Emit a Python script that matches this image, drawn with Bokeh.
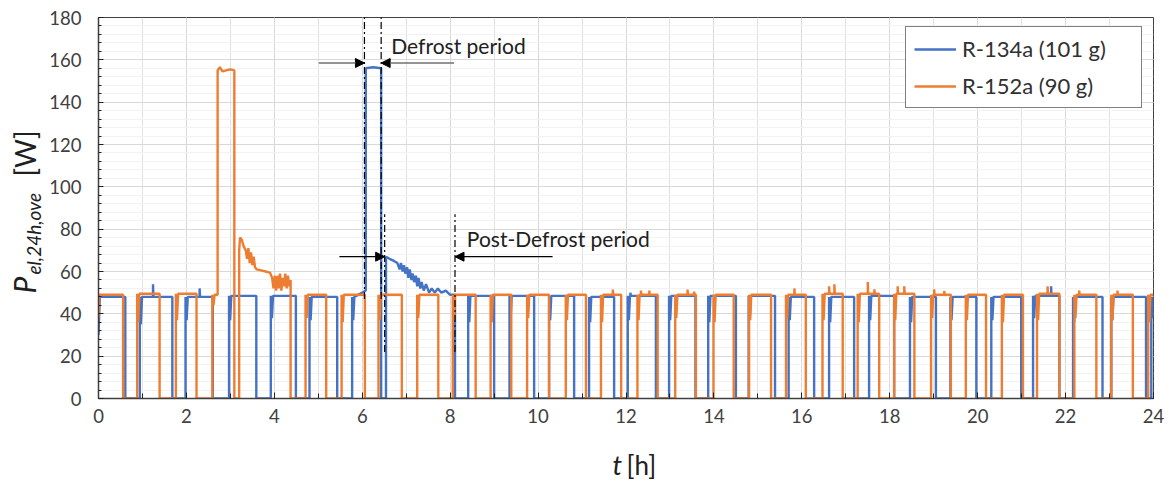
import math
from bokeh.plotting import figure
from bokeh.layouts import row, column
from bokeh.models import Label, Arrow, NormalHead, Legend, LegendItem, FixedTicker, Range1d
from bokeh.core.properties import value
from bokeh.embed import file_html
from bokeh.resources import INLINE

# ---------------- data ----------------
# R-134a (101 g): compressor on/off times [h], plateau power [W], start-up dip [W]
blue_on = [0.00, 0.94, 1.98, 2.97, 3.92, 4.80, 5.77, 6.54, 8.41, 9.35, 10.25, 11.16, 12.04,
           12.98, 13.87, 14.79, 15.70, 16.62, 17.53, 18.46, 19.38, 20.31, 21.26, 22.17, 23.04, 23.95]
blue_off = [0.61, 1.68, 2.60, 3.59, 4.49, 5.43, 6.43, 8.11, 9.00, 9.91, 10.82, 11.73, 12.68,
            13.58, 14.50, 15.39, 16.28, 17.19, 18.10, 19.05, 19.97, 20.99, 21.86, 22.84, 23.83, 24.00]
blue_lvl = [48, 48, 48, 48.5, 48.5, 48, 48, 48, 48.5, 48.5, 48.5, 48, 48.5,
            48.5, 48.5, 48.5, 48, 48, 48.5, 48, 48, 48, 48.5, 48, 48, 48]
blue_dip = [None, 35, 37, 37, 38, 37, None, None, 36, 38, 37, 36, 37,
            37, 36, 38, 37, 36, 37, 36, 37, 37, 38, 36, 37, 38]
# explicit profile of the start, the defrost and the post-defrost period
blue_sp_t = [0.00, 0.03, 0.61,
             5.77, 5.795, 5.82, 6.00, 6.08, 6.08, 6.25, 6.43,
             6.54, 6.62, 6.72, 6.80, 6.85, 6.88, 6.92, 6.95, 6.98, 7.02, 7.05, 7.08, 7.12,
             7.15, 7.18, 7.22, 7.25, 7.28, 7.32, 7.35, 7.40, 7.45, 7.52, 7.58, 7.65, 7.72,
             7.80, 7.90, 8.00, 8.11]
blue_sp_v = [30, 48, 48,
             48, 37, 48, 50, 51, 156, 156.5, 156,
             67, 66, 65, 64, 61, 64, 60, 63, 59, 62, 57, 61, 56,
             59, 55, 58, 53, 57, 52, 55, 51, 54, 50, 52, 50, 52,
             50, 51, 49, 49]
blue_spk_t = [1.24, 2.30, 12.10, 21.67]
blue_spk_v = [54, 52, 50, 53]

# R-152a (90 g)
orange_on = [0.00, 0.88, 1.76, 2.59, 3.20, 4.71, 5.53, 6.37, 7.25, 8.06, 8.92, 9.75, 10.63, 11.43,
             12.26, 13.12, 13.99, 14.80, 15.64, 16.47, 17.27, 18.10, 18.94, 19.73, 20.55, 21.35,
             22.20, 23.04, 23.88]
orange_off = [0.56, 1.39, 2.23, 3.09, 4.37, 5.18, 6.06, 6.90, 7.73, 8.58, 9.39, 10.25, 11.09, 11.89,
              12.72, 13.59, 14.45, 15.30, 16.09, 16.93, 17.76, 18.56, 19.39, 20.19, 21.03, 21.86,
              22.70, 23.53, 24.00]
orange_lvl = [49, 49.5, 49.5, 49, 49, 49, 49, 49, 49, 49, 49, 49, 49, 49,
              49, 49, 49, 49, 49, 49.5, 49.5, 49.5, 49, 49, 49, 49.5, 49, 49, 49]
orange_dip = [None, 36, 37, None, None, 38, 36, 37, 38, 37, 36, 38, 37, 36,
              37, 38, 36, 37, 38, 37, 36, 37, 38, 37, 36, 37, 38, 37, 36]
orange_sp_t = [0.00, 0.02, 0.56,
               2.59, 2.615, 2.64, 2.71, 2.71, 2.76, 2.82, 2.90, 3.00, 3.09,
               3.20, 3.22, 3.26, 3.30, 3.35, 3.38, 3.41, 3.44, 3.47, 3.50, 3.53, 3.56, 3.60,
               3.70, 3.80, 3.90, 3.95, 3.98, 4.01, 4.04, 4.07, 4.10, 4.13, 4.16, 4.19, 4.22,
               4.25, 4.28, 4.31, 4.34, 4.37]
orange_sp_v = [38, 49, 49,
               49, 44, 49, 49, 155, 156.5, 154.5, 155, 155.5, 155,
               70, 76, 75, 72, 70, 66, 71, 64, 69, 63, 67, 62, 61,
               60.5, 60, 59.5, 57, 52, 58, 51, 58, 52, 59, 51, 57, 53,
               59, 52, 58, 53, 56]
orange_spk_t = [11.70, 12.34, 12.53, 13.40, 13.55, 15.83, 16.62, 16.74, 17.50, 17.65,
                18.18, 18.33, 19.01, 19.24, 21.59, 22.31, 23.18]
orange_spk_v = [51.5, 51, 51, 51.5, 50.5, 52, 53, 54, 55, 51.6,
                53, 53, 51.6, 50.8, 53, 51, 51]

series_names = ["R-134a (101 g)", "R-152a (90 g)"]
x_ticks = list(range(0, 25, 2))
y_ticks = list(range(0, 181, 20))
y_title = ["P", "el,24h,ove", "[W]"]
x_title = ["t", "[h]"]

# annotation geometry
defrost_lines_x = [6.05, 6.43]
post_lines_x = [6.51, 8.11]


def build_path(on, off, lvl, dip, sp_t, sp_v, spk_t, spk_v):
    xs, ys = [], []
    for s, e, L, d in zip(on, off, lvl, dip):
        special = [(t, v) for t, v in zip(sp_t, sp_v) if s <= t <= e]
        if s > 0:
            xs.append(s); ys.append(0)
        if special:
            pts = special
        else:
            pts = [(s, L)]
            if d is not None:
                pts += [(s + 0.025, d), (s + 0.05, L)]
            for t, v in zip(spk_t, spk_v):
                if s + 0.05 < t < e:
                    pts += [(t, L), (t, v), (t + 0.01, L)]
            pts.append((e, L))
        for t, v in pts:
            xs.append(t); ys.append(v)
        if e < 24:
            xs.append(e); ys.append(0)
    return xs, ys


bx, by = build_path(blue_on, blue_off, blue_lvl, blue_dip, blue_sp_t, blue_sp_v, blue_spk_t, blue_spk_v)
ox, oy = build_path(orange_on, orange_off, orange_lvl, orange_dip, orange_sp_t, orange_sp_v,
                    orange_spk_t, orange_spk_v)

FONT = "Lato"
BLUE = "#4472C4"
ORANGE = "#ED7D31"
TXT = "#202020"

LEFT_W = 46
MAIN_H = 440
TOP_B = 17
BOT_B = MAIN_H - 398

p = figure(width=1172 - LEFT_W, height=MAIN_H, x_range=Range1d(0, 24), y_range=Range1d(0, 180),
           output_backend="svg", toolbar_location=None,
           min_border_left=98 - LEFT_W, min_border_right=19, min_border_top=TOP_B,
           min_border_bottom=BOT_B)
p.background_fill_color = "white"
p.border_fill_color = "white"
p.outline_line_color = "#404040"
p.outline_line_width = 1

p.xaxis.ticker = FixedTicker(ticks=x_ticks, minor_ticks=list(range(0, 25)))
p.yaxis.ticker = FixedTicker(ticks=y_ticks, minor_ticks=list(range(0, 181, 4)))
p.xgrid.grid_line_color = "#d9d9d9"
p.xgrid.minor_grid_line_color = "#e2e2e2"
p.ygrid.grid_line_color = "#d9d9d9"
p.ygrid.minor_grid_line_color = "#f2f2f2"

for ax in (p.xaxis[0], p.yaxis[0]):
    ax.axis_line_color = "#404040"
    ax.axis_line_width = 1.5
    ax.major_tick_out = 0
    ax.minor_tick_out = 0
    ax.major_tick_line_color = "#202020"
    ax.minor_tick_line_color = "#202020"
    ax.major_label_text_font = FONT
    ax.major_label_text_font_size = "18.5px"
    ax.major_label_text_color = "#404040"
p.xaxis.major_tick_in = 6
p.xaxis.minor_tick_in = 5
p.yaxis.major_tick_in = 5
p.yaxis.minor_tick_in = 3
p.xaxis.major_label_standoff = 10
p.yaxis.major_label_standoff = 17

r_blue = p.line(bx, by, line_color=BLUE, line_width=2.4)
r_orange = p.line(ox, oy, line_color=ORANGE, line_width=2.4)

# dash-dot markers of the periods
for x in defrost_lines_x:
    p.segment(x0=[x], y0=[47], x1=[x], y1=[180], line_color="black", line_width=1.2,
              line_dash="7 3 2 3")
for x in post_lines_x:
    p.segment(x0=[x], y0=[22], x1=[x], y1=[87], line_color="black", line_width=1.2,
              line_dash="7 3 2 3")

p.add_layout(Arrow(end=NormalHead(size=9, fill_color="black", line_color="black"),
                   x_start=5.01, y_start=158.5, x_end=defrost_lines_x[0], y_end=158.5,
                   line_color="#707070", line_width=1.3))
p.add_layout(Arrow(end=NormalHead(size=9, fill_color="black", line_color="black"),
                   x_start=8.09, y_start=158.5, x_end=defrost_lines_x[1], y_end=158.5,
                   line_color="#707070", line_width=1.3))
p.add_layout(Arrow(end=NormalHead(size=9, fill_color="black", line_color="black"),
                   x_start=5.48, y_start=67, x_end=post_lines_x[0], y_end=67,
                   line_color="black", line_width=1.3))
p.add_layout(Arrow(end=NormalHead(size=9, fill_color="black", line_color="black"),
                   x_start=10.33, y_start=67, x_end=post_lines_x[1], y_end=67,
                   line_color="black", line_width=1.3))

p.add_layout(Label(x=6.66, y=166.8, text="Defrost period", text_font=FONT,
                   text_font_size="21px", text_color=TXT, text_baseline="alphabetic"))
p.add_layout(Label(x=8.38, y=75.6, text="Post-Defrost period", text_font=FONT,
                   text_font_size="21px", text_color=TXT, text_baseline="alphabetic"))

legend = Legend(items=[LegendItem(label=series_names[0], renderers=[r_blue]),
                       LegendItem(label=series_names[1], renderers=[r_orange])],
                location=(807, 290))
legend.label_text_font = FONT
legend.label_text_font_size = "22px"
legend.label_text_color = "#303030"
legend.glyph_width = 42
legend.glyph_height = 22
legend.label_height = 22
legend.label_width = 171
legend.label_standoff = 6
legend.spacing = 10
legend.padding = 8
legend.margin = 0
legend.border_line_color = "black"
legend.border_line_width = 1
legend.background_fill_alpha = 1
p.add_layout(legend)


def blank(w, h, top=0, bottom=0):
    f = figure(width=w, height=h, x_range=Range1d(0, w), y_range=Range1d(0, h - top - bottom),
               output_backend="svg", toolbar_location=None, x_axis_type=None, y_axis_type=None,
               min_border=0, min_border_top=top, min_border_bottom=bottom)
    f.outline_line_color = None
    f.grid.visible = False
    f.background_fill_color = "white"
    f.border_fill_color = "white"
    return f


# y-axis title panel: frame aligned with the main frame, data y = 398 - pixel row
left = blank(LEFT_W, MAIN_H, top=TOP_B, bottom=BOT_B)
left.text(x=[23], y=[398 - 293], text=[y_title[0]], angle=math.pi / 2,
          text_font=value(FONT), text_font_size=value("30px"), text_font_style="italic",
          text_color=TXT, text_baseline="alphabetic", text_align="left")
left.text(x=[33], y=[398 - 274], text=[y_title[1]], angle=math.pi / 2,
          text_font=value(FONT), text_font_size=value("19px"), text_font_style="italic",
          text_color=TXT, text_baseline="alphabetic", text_align="left")
left.text(x=[24], y=[398 - 176], text=[y_title[2]], angle=math.pi / 2,
          text_font=value(FONT), text_font_size=value("28px"),
          text_color=TXT, text_baseline="alphabetic", text_align="left")

# x-axis title panel
BOT_H = 486 - MAIN_H
bottom = blank(1172, BOT_H)
bottom.text(x=[612], y=[486 - 464], text=[x_title[0]], text_font=value(FONT),
            text_font_size=value("27px"), text_font_style="italic", text_color=TXT,
            text_baseline="alphabetic", text_align="left")
bottom.text(x=[626], y=[486 - 464], text=[x_title[1]], text_font=value(FONT),
            text_font_size=value("26px"), text_color=TXT,
            text_baseline="alphabetic", text_align="left")

layout = column(row(left, p, spacing=0), bottom, spacing=0)
open("out.html", "w").write(file_html(layout, INLINE))
